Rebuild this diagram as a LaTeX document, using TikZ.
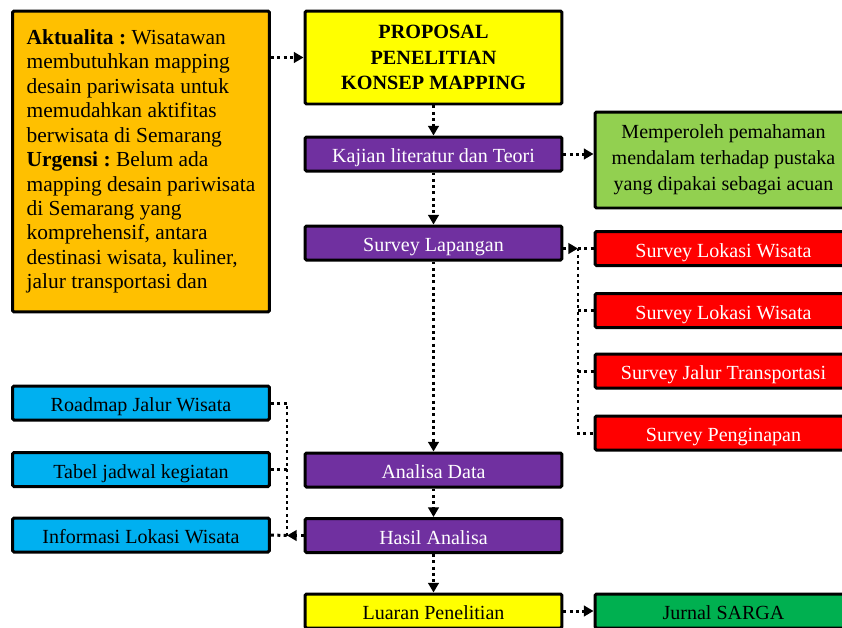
\documentclass[tikz,border=0pt]{standalone}
\usepackage{fontspec}
\setmainfont{Liberation Serif}
\usetikzlibrary{arrows.meta}
\definecolor{orng}{HTML}{FFC000}
\definecolor{ylw}{HTML}{FFFF00}
\definecolor{prp}{HTML}{7030A0}
\definecolor{lgrn}{HTML}{92D050}
\definecolor{rd}{HTML}{FF0000}
\definecolor{blu}{HTML}{00B0F0}
\definecolor{dgrn}{HTML}{00B050}
\newcommand\nohyp{\hyphenpenalty 10000\relax\frenchspacing}
\tikzset{
  box/.style={draw=black, line width=1.7pt, rounded corners=0.8pt, minimum width=5.14cm, inner sep=2pt, font=\fontsize{11.4}{14.4}\selectfont},
  sbox/.style={box, minimum height=0.68cm, text height=10pt, text depth=0pt},
  orbox/.style={box, fill=orng, minimum height=6.02cm, align=left, font=\fontsize{12.2}{13.9}\selectfont\nohyp},
  ttl/.style={box, fill=ylw, minimum height=1.86cm, align=center, font=\bfseries\fontsize{11.5}{14.5}\selectfont},
  grbox/.style={box, fill=lgrn, minimum height=1.92cm, align=center, font=\fontsize{11.4}{14.7}\selectfont},
  pubox/.style={sbox, fill=prp, text=white},
  rdbox/.style={sbox, fill=rd, text=white},
  blbox/.style={sbox, fill=blu},
  ylbox/.style={sbox, fill=ylw},
  dgbox/.style={sbox, fill=dgrn},
  conn/.style={draw=black, line width=1.7pt, dash pattern=on 1.7pt off 1.9pt},
  arr/.style={conn, -{Triangle[length=5.5pt,width=6pt]}},
}
\begin{document}
\begin{tikzpicture}[x=0.02cm, y=-0.02cm]
\useasboundingbox (0,0) rectangle (842,627);
\clip (0,0) rectangle (842,627);
% left column
\node[orbox] (akt) at (141,161.5) {\textbf{Aktualita :} Wisatawan\\ membutuhkan mapping\\ desain pariwisata untuk\\ memudahkan aktifitas\\ berwisata di Semarang\\ \textbf{Urgensi :} Belum ada\\ mapping desain pariwisata\\ di Semarang yang\\ komprehensif, antara\\ destinasi wisata, kuliner,\\ jalur transportasi dan};
\node[blbox] (b1) at (141,403) {Roadmap Jalur Wisata};
\node[blbox] (b2) at (141,469.5) {Tabel jadwal kegiatan};
\node[blbox] (b3) at (141,535) {Informasi Lokasi Wisata};
% middle column
\node[ttl] (prop) at (433.5,57.5) {PROPOSAL\\ PENELITIAN\\ KONSEP MAPPING};
\node[pubox] (kaj) at (433.5,154) {Kajian literatur dan Teori};
\node[pubox] (surv) at (433.5,243) {Survey Lapangan};
\node[pubox] (anl) at (433.5,470) {Analisa Data};
\node[pubox] (hsl) at (433.5,535.5) {Hasil Analisa};
\node[ylbox] (luar) at (433.5,611) {Luaran Penelitian};
% right column
\node[grbox] (paham) at (723.5,160) {Memperoleh pemahaman\\ mendalam terhadap pustaka\\ yang dipakai sebagai acuan};
\node[rdbox] (r1) at (723.5,248.5) {Survey Lokasi Wisata};
\node[rdbox] (r2) at (723.5,310.5) {Survey Lokasi Wisata};
\node[rdbox] (r3) at (723.5,371) {Survey Jalur Transportasi};
\node[rdbox] (r4) at (723.5,433) {Survey Penginapan};
\node[dgbox] (jur) at (723.5,611) {Jurnal SARGA};
\coordinate (sj) at (578,248.5);
\coordinate (bj) at (287,535.5);
% connectors
\draw[arr] (akt.east |- prop.west) -- (prop.west);
\draw[arr] (prop) -- (kaj);
\draw[arr] (kaj) -- (surv);
\draw[arr] (kaj.east) -- (kaj.east -| paham.west);
\draw[arr] (surv.east |- sj) -- (sj);
\draw[conn] (sj) -- (r1.west);
\draw[conn] (sj) |- (r4.west);
\draw[conn] (sj |- r2.west) -- (r2.west);
\draw[conn] (sj |- r3.west) -- (r3.west);
\draw[arr] (surv) -- (anl);
\draw[arr] (anl) -- (hsl);
\draw[arr] (hsl) -- (luar);
\draw[arr] (hsl.west) -- (bj);
\draw[conn] (bj) |- (b1.east);
\draw[conn] (b2.east) -- (b2.east -| bj);
\draw[conn] (b3.east) -- (bj);
\draw[arr] (luar.east) -- (luar.east -| jur.west);
\end{tikzpicture}
\end{document}
